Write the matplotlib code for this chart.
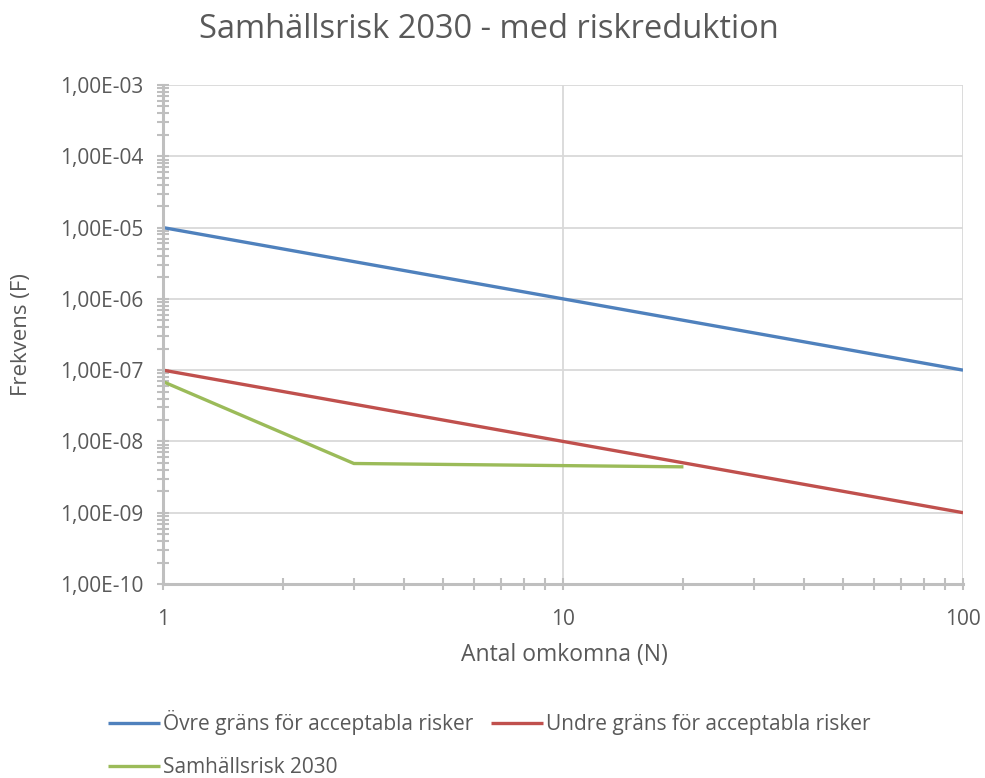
import numpy as np
import matplotlib
matplotlib.use("Agg")
import matplotlib.pyplot as plt
from matplotlib.ticker import FuncFormatter, LogLocator, NullFormatter

plt.rcParams["font.family"] = ["Open Sans", "DejaVu Sans"]

# ── Data ─────────────────────────────────────────────────────────────────────
n_limits  = [1, 10, 100]
f_upper   = [1e-5, 1e-6, 1e-7]      # Övre gräns
f_lower   = [1e-7, 1e-8, 1e-9]      # Undre gräns

n_risk    = [1, 3, 20]
f_risk    = [6.9e-8, 4.9e-9, 4.4e-9]

labels = ["Övre gräns för acceptabla risker",
          "Undre gräns för acceptabla risker",
          "Samhällsrisk 2030"]
colors = ["#4F81BD", "#C0504D", "#9BBB59"]

TXT  = "#595959"
AXC  = "#BFBFBF"
GRID = "#D9D9D9"

fig = plt.figure(figsize=(9.85, 7.78), dpi=100)
ax = fig.add_axes([0.1655, 0.2494, 0.8122, 0.6413])

l1, = ax.plot(n_limits, f_upper, color=colors[0], lw=2.4, solid_capstyle="butt")
l2, = ax.plot(n_limits, f_lower, color=colors[1], lw=2.4, solid_capstyle="butt")
l3, = ax.plot(n_risk, f_risk, color=colors[2], lw=2.4, solid_capstyle="butt")

ax.set_xscale("log")
ax.set_yscale("log")
ax.set_xlim(1, 100)
ax.set_ylim(1e-10, 1e-3)

ax.yaxis.set_major_locator(LogLocator(base=10, numticks=20))
ax.yaxis.set_minor_locator(LogLocator(base=10, subs=np.arange(2, 10), numticks=20))
ax.yaxis.set_minor_formatter(NullFormatter())
ax.yaxis.set_major_formatter(FuncFormatter(lambda v, p: f"1,00E-{int(round(-np.log10(v))):02d}"))
ax.xaxis.set_major_formatter(FuncFormatter(lambda v, p: f"{int(round(v))}"))
ax.xaxis.set_minor_formatter(NullFormatter())

ax.grid(True, which="major", color=GRID, lw=1.3)
ax.set_axisbelow(True)
for s in ["top", "right"]:
    ax.spines[s].set_visible(False)
for s in ["left", "bottom"]:
    ax.spines[s].set_color(AXC)
    ax.spines[s].set_linewidth(2.2)

ax.tick_params(which="both", direction="inout", color=AXC, width=1.5, length=8,
               labelcolor=TXT, labelsize=15)
ax.tick_params(axis="y", which="major", pad=10)
ax.tick_params(axis="x", which="major", pad=14)

fig.text(564 / 985, 1 - 655 / 778, "Antal omkomna (N)", fontsize=16.5, color=TXT,
         ha="center", va="center")
fig.text(22 / 985, 1 - 335 / 778, "Frekvens (F)", fontsize=16, color=TXT,
         ha="center", va="center", rotation=90)
fig.text(489 / 985, 1 - 30 / 778, "Samhällsrisk 2030 - med riskreduktion",
         fontsize=23.5, color=TXT, ha="center", va="center")

fig.legend([l1, l3, l2], [labels[0], labels[2], labels[1]], ncol=2,
           loc="upper left", bbox_to_anchor=(108 / 985, 1 - 710 / 778),
           frameon=False, borderpad=0, borderaxespad=0,
           fontsize=15, labelcolor=TXT, handlelength=2.5, handletextpad=0.15,
           columnspacing=0.85, labelspacing=1.05)

fig.savefig("out.png", dpi=100)
